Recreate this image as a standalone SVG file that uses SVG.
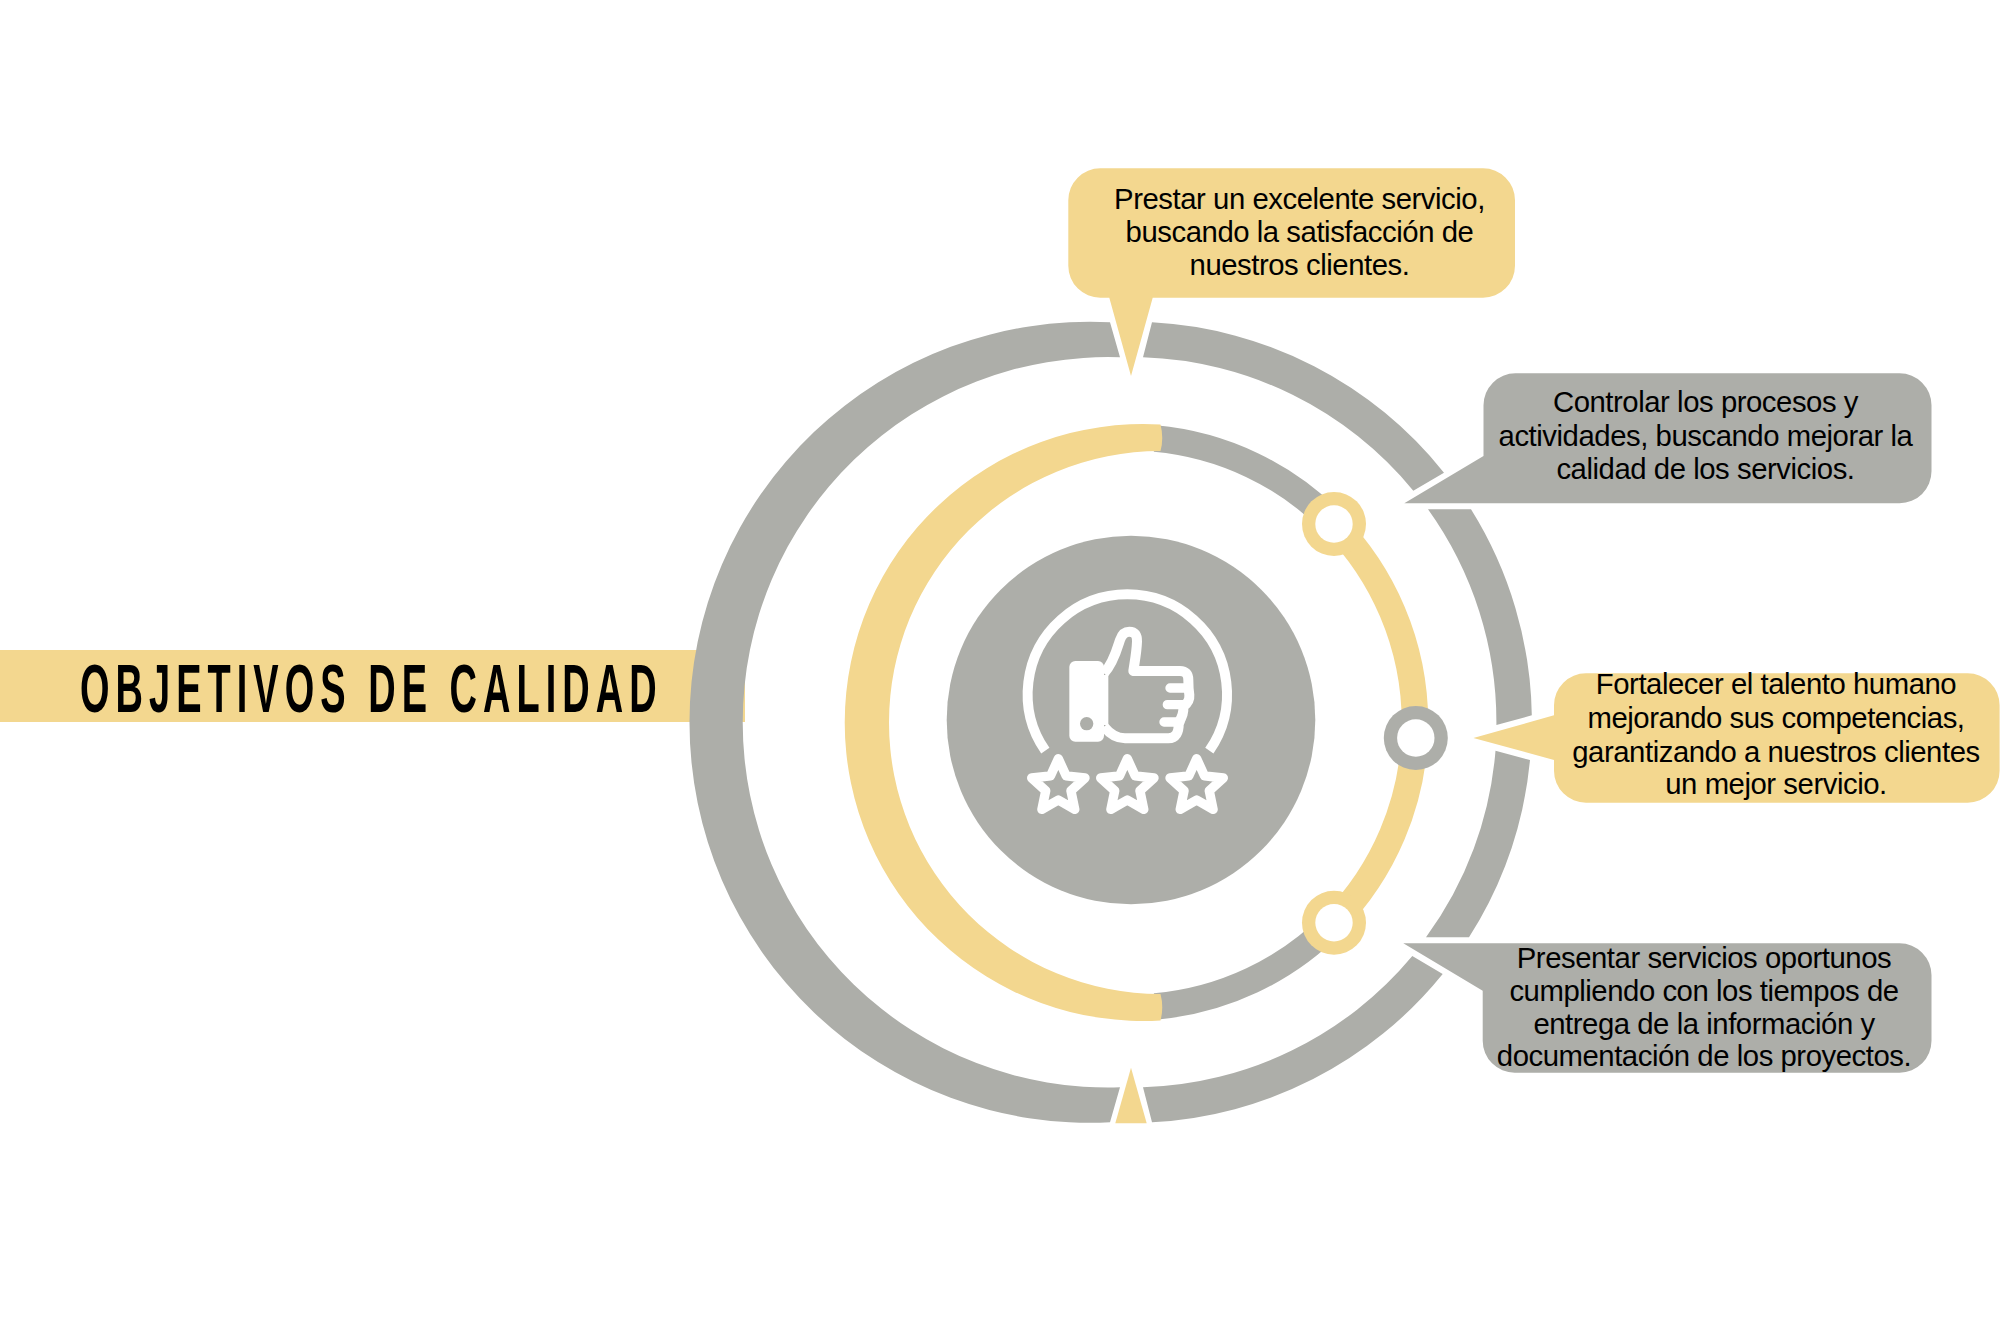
<svg xmlns="http://www.w3.org/2000/svg" width="2000" height="1333" viewBox="0 0 2000 1333">
<style>
.y{fill:#F3D78F}.g{fill:#ADAEA9}
.sy{fill:none;stroke:#F3D78F;stroke-width:26.5}.sg{fill:none;stroke:#ADAEA9;stroke-width:26.5}
.t{font-family:"Liberation Sans",Arial,sans-serif;font-size:29.3px;letter-spacing:-.45px;fill:#000;text-anchor:middle}
.w{fill:none;stroke:#fff;stroke-linejoin:round}
.hole{fill:#fff}
</style>
<defs>
<path id="star" d="M0 -84L23.5 -32.300L80 -26L37.800 12.300L49.400 68L0 40L-49.400 68L-37.800 12.300L-80 -26L-23.500 -32.300Z"/>
</defs>
<rect width="2000" height="1333" fill="#fff"/>
<g id="title">
<rect class="y" x="0" y="650" width="745" height="72"/>
<text x="80" y="712" transform="translate(80 0) scale(.55 1) translate(-80 0)" font-family="'Liberation Sans',Arial,sans-serif" font-weight="700" font-size="69" letter-spacing="11" fill="#000">OBJETIVOS DE CALIDAD</text>
</g>
<g id="connectors">
<path class="g" d="M1110 322.300A400.500 400.500 0 1 0 1110 1122.300L1120 1087.300A365.200 365.200 0 1 1 1120 357.300Z"/>
<path class="g" d="M1152 322.300A400.500 400.500 0 0 1 1444 472.700L1413.300 490.700A365.200 365.200 0 0 0 1143 357.300Z"/>
<path class="g" d="M1471 509.300A400.500 400.500 0 0 1 1531.800 715.300L1496.400 725A365.200 365.200 0 0 0 1428 509.300Z"/>
<path class="g" d="M1530 760A400.500 400.500 0 0 1 1469 937.300H1426A365.200 365.200 0 0 0 1495.500 750.700Z"/>
<path class="g" d="M1442.700 974A400.500 400.500 0 0 1 1152 1122.300L1143 1087.300A365.200 365.200 0 0 0 1412.300 956Z"/>
<path class="sg" d="M1155 438.500A285 285 0 0 1 1334 524"/>
<path class="sg" d="M1334 922A285 285 0 0 1 1155 1006.500"/>
<path class="sy" d="M1334 524A285 285 0 0 1 1334 922"/>
<path class="y" d="M1160.500 424.500A298.500 298.500 0 1 0 1160.500 1020.500Q1164 1007 1160.500 994A271.500 271.500 0 1 1 1160.500 451Q1164 438 1160.500 424.500Z"/>
</g>
<g id="node-1"><circle class="y" cx="1334" cy="524" r="32"/><circle class="hole" cx="1334" cy="524" r="18.700"/></g>
<g id="node-2"><circle class="g" cx="1415.800" cy="738" r="32"/><circle class="hole" cx="1415.800" cy="738" r="18.700"/></g>
<g id="node-3"><circle class="y" cx="1334" cy="922.700" r="32"/><circle class="hole" cx="1334" cy="922.700" r="18.700"/></g>
<g id="center">
<circle class="g" cx="1131" cy="720" r="184.300"/>
<g transform="translate(980 560) scale(.33333)">
<path class="w" stroke-width="30" d="M196 572A299 299 0 1 1 688 572"/>
<rect x="268" y="303" width="104" height="242" rx="18" fill="#fff"/>
<rect x="365" y="345" width="20" height="150" fill="#fff"/>
<circle class="g" cx="320" cy="491" r="20"/>
<path class="w" stroke-width="30" d="M372 340C400 310 412 265 420 240Q428 215 448 215Q472 215 471 245C470 275 465 300 460 333H600Q625 333 625 360Q625 385 628 405Q630 425 610 440Q612 465 596 487Q598 535 565 535H435Q400 535 372 500"/>
<path class="w" stroke-width="28" stroke-linecap="round" d="M570 384H625M562 434H612M552 486H600"/>
<g class="w" stroke-width="28">
<use href="#star" x="235" y="680"/><use href="#star" x="442" y="680"/><use href="#star" x="650" y="680"/>
</g>
</g>
</g>
<g id="callout-1">
<path class="y" d="M1100.300 168.300H1483A32 32 0 0 1 1515 200.300V265.700A32 32 0 0 1 1483 297.700H1152.700L1131 376L1109.300 297.700H1100.300A32 32 0 0 1 1068.300 265.700V200.300A32 32 0 0 1 1100.300 168.300Z"/>
<text class="t" x="1299.500" y="208.700">Prestar un excelente servicio,</text>
<text class="t" x="1299.500" y="241.700">buscando la satisfacción de</text>
<text class="t" x="1299.500" y="275.300">nuestros clientes.</text>
</g>
<g id="callout-2">
<path class="g" d="M1515.500 373.300H1899.500A32 32 0 0 1 1931.500 405.300V471.300A32 32 0 0 1 1899.500 503.300H1404.300L1483.500 456V405.300A32 32 0 0 1 1515.500 373.300Z"/>
<text class="t" x="1705.500" y="412">Controlar los procesos y</text>
<text class="t" x="1705.500" y="446">actividades, buscando mejorar la</text>
<text class="t" x="1705.500" y="479.300">calidad de los servicios.</text>
</g>
<g id="callout-3">
<path class="y" d="M1586 673.300H1967.600A32 32 0 0 1 1999.600 705.300V770.700A32 32 0 0 1 1967.600 802.700H1586A32 32 0 0 1 1554 770.700V760L1473.400 738L1554 715.300V705.300A32 32 0 0 1 1586 673.300Z"/>
<text class="t" x="1776" y="694.300">Fortalecer el talento humano</text>
<text class="t" x="1776" y="727.700">mejorando sus competencias,</text>
<text class="t" x="1776" y="761.500">garantizando a nuestros clientes</text>
<text class="t" x="1776" y="794.300">un mejor servicio.</text>
</g>
<g id="callout-4">
<path class="g" d="M1403.300 943.300H1899.500A32 32 0 0 1 1931.500 975.300V1040.700A32 32 0 0 1 1899.500 1072.700H1514.700A32 32 0 0 1 1482.700 1040.700V990.700Z"/>
<text class="t" x="1704" y="968">Presentar servicios oportunos</text>
<text class="t" x="1704" y="1001">cumpliendo con los tiempos de</text>
<text class="t" x="1704" y="1034">entrega de la información y</text>
<text class="t" x="1704" y="1066">documentación de los proyectos.</text>
</g>
<polygon id="marker-bottom" class="y" points="1131,1067.700 1115.300,1123.300 1146.700,1123.300"/>
</svg>
